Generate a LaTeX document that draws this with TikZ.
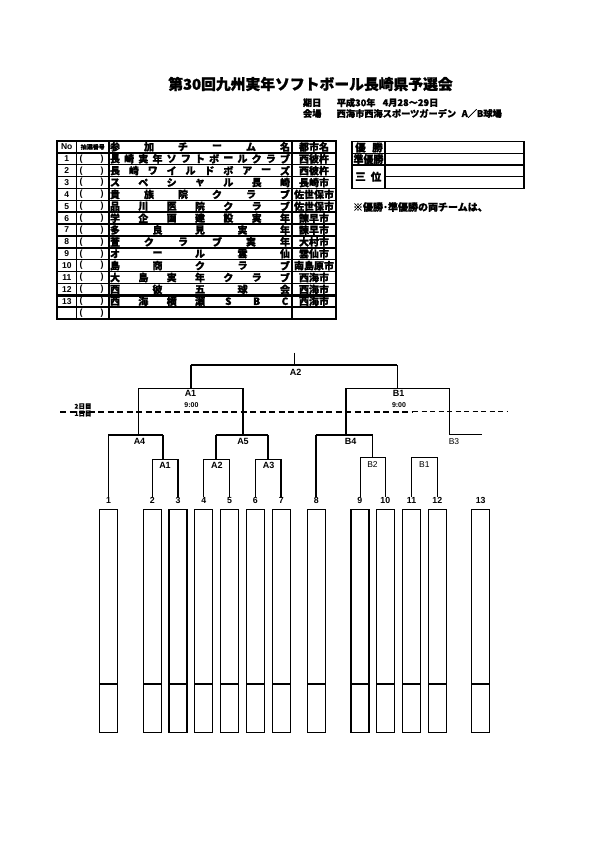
\documentclass[tikz,border=0pt]{standalone}
\usepackage{fontspec}
\setmainfont{Liberation Sans}
\newfontfamily\jp{Noto Sans CJK JP}[BoldFeatures={FakeBold=1.2}]
\newcommand\jpb{\jp\bfseries}
\newcommand\fsz[1]{\fontsize{#1}{#1}\selectfont}
% #1 row, #2 number of characters, #3 characters, #4 city
\newcommand\teamrow[4]{%
  \pgfmathsetmacro\ry{141+11.87*(#1+0.5)}%
  \node[numtxt] (no#1) at (66.75,\ry) {#1};
  \node[partxt] (pl#1) at (81,\ry) {(};
  \node[partxt] (pr#1) at (102,\ry) {)};
  \foreach[count=\i] \c in {#3} {
    \pgfmathsetmacro\rx{115+(\i-1)*170/(#2-1)}
    \node[tchar] (c#1-\i) at (\rx,\ry) {\c};
  }
  \node[ctxt] (city#1) at (314,\ry) {#4};
}
\begin{document}
\begin{tikzpicture}[x=1pt,y=-1pt,
  every node/.style={inner sep=0pt, outer sep=0pt},
  tline/.style={line width=1.5pt},
  tchar/.style={font=\jpb\fsz{10}},
  ctxt/.style={font=\jpb\fsz{10}},
  numtxt/.style={font=\bfseries\fsz{8.5}},
  partxt/.style={font=\bfseries\fsz{9}},
  lab/.style={font=\bfseries\fsz{9}},
  labthin/.style={font=\fsz{8.5}},
  tnum/.style={font=\bfseries\fsz{8.8}},
  tbox/.style={draw, line width=1.4pt, minimum width=18pt, minimum height=223.4pt},
  bnorm/.style={line width=1.1pt},
  bthick/.style={line width=1.9pt},
  bthin/.style={line width=0.6pt},
]
\useasboundingbox[fill=white] (0,0) rectangle (595,842);

% ---------- title ----------
\node[font=\jpb\fsz{14.8}] (title) at (310.5,84) {第30回九州実年ソフトボール長崎県予選会};
\node[font=\jpb\fsz{9.2}, anchor=west] (kijitsu) at (303,102.7) {期日};
\node[font=\jpb\fsz{9.2}, anchor=west] (date1) at (336.7,102.7) {平成30年};
\node[font=\jpb\fsz{9.2}, anchor=west] (date2) at (382.7,102.7) {4月28～29日};
\node[font=\jpb\fsz{9.2}, anchor=west] (kaijo) at (303,113.5) {会場};
\node[font=\jpb\fsz{9.2}, anchor=west] (place1) at (336.7,113.5) {西海市西海スポーツガーデン};
\node[font=\jpb\fsz{9.2}, anchor=west] (place2) at (461.7,113.5) {A／B球場};

% ---------- team table ----------
\draw[tline] (57,141) rectangle (336,319.05);
\foreach \k in {1,...,14} {
  \pgfmathsetmacro\yy{141+11.87*\k}
  \draw[tline] (57,\yy) -- (336,\yy);
}
\draw[line width=2.6pt] (57,295.31) -- (336,295.31);
\foreach \xx in {76.5,109,292} \draw[tline] (\xx,141) -- (\xx,319.05);

\node[numtxt] (hNo) at (66.75,146.9) {No};
\node[font=\jpb\fsz{6}] (hLot) at (92.75,146.9) {抽選番号};
\foreach[count=\i] \c in {参,加,チ,ー,ム,名} {
  \pgfmathsetmacro\rx{115+(\i-1)*34}
  \node[tchar] (h-\i) at (\rx,146.9) {\c};
}
\node[ctxt] (hCity) at (314,146.9) {都市名};

\teamrow{1}{13}{長,崎,実,年,ソ,フ,ト,ボ,ー,ル,ク,ラ,ブ}{西彼杵}
\teamrow{2}{10}{長,崎,ワ,イ,ル,ド,ボ,ア,ー,ズ}{西彼杵}
\teamrow{3}{7}{ス,ペ,シ,ャ,ル,長,崎}{長崎市}
\teamrow{4}{6}{貴,族,院,ク,ラ,ブ}{佐世保市}
\teamrow{5}{7}{品,川,医,院,ク,ラ,ブ}{佐世保市}
\teamrow{6}{7}{学,企,画,建,設,実,年}{諫早市}
\teamrow{7}{5}{多,良,見,実,年}{諫早市}
\teamrow{8}{6}{萱,ク,ラ,ブ,実,年}{大村市}
\teamrow{9}{5}{オ,ー,ル,雲,仙}{雲仙市}
\teamrow{10}{5}{島,商,ク,ラ,ブ}{南島原市}
\teamrow{11}{7}{大,島,実,年,ク,ラ,ブ}{西海市}
\teamrow{12}{5}{西,彼,五,球,会}{西海市}
\teamrow{13}{7}{西,海,横,瀬,S,B,C}{西海市}
\node[partxt] (pl14) at (81,313.1) {(};
\node[partxt] (pr14) at (102,313.1) {)};

% ---------- result table ----------
\draw[tline] (352,141.7) rectangle (524,188.3);
\draw[tline] (385,141.7) -- (385,188.3);
\draw[tline] (352,153.3) -- (524,153.3);
\draw[tline] (352,165) -- (524,165);
\draw[tline] (385,176.7) -- (524,176.7);
\node[font=\jpb\fsz{10.5}] (yu1) at (360.5,147.5) {優};
\node[font=\jpb\fsz{10.5}] (yu2) at (377.5,147.5) {勝};
\node[font=\jpb\fsz{10.5}] (jun) at (368.5,159.2) {\scalebox{0.95}[1]{準優勝}};
\node[font=\jpb\fsz{10.5}] (san1) at (360.5,176.7) {三};
\node[font=\jpb\fsz{10.5}] (san2) at (376,176.7) {位};
\node[font=\jpb\fsz{10}, anchor=west] (note) at (353,207) {※優勝･準優勝の両チームは、};

% ---------- team boxes and numbers ----------
\foreach \n/\x in {1/108.5,2/152.2,3/178,4/203.7,5/229.5,6/255.3,7/281.3,8/316.3,9/359.8,10/385.3,11/411.5,12/437.3,13/480.7} {
  \node[tnum] (n\n) at (\x,500.5) {\n};
  \node[tbox] (b\n) at (\x,621) {};
  \draw[line width=1.4pt] (b\n.west |- 0,684) -- (b\n.east |- 0,684);
}

% ---------- bracket ----------
\coordinate (tick) at (294.3,352.5);
\coordinate (A2L) at (190.7,365);
\coordinate (A2R) at (397.3,365);
\draw[bnorm] (tick) -- (tick |- A2L);
\draw[bthick] (A2L) -- (A2R);
\node[lab] (lA2) at (295.5,372.5) {A2};

% A1 (day 2)
\coordinate (A1L) at (138.3,388.3);
\coordinate (A1R) at (242.7,388.3);
\draw[bthick] (A2L) -- (A2L |- A1L);
\draw[bnorm] (A1L) -- (A1R);
\node[lab] (lA1) at (190.5,393) {A1};
\node[font=\bfseries\fsz{7}] (t1) at (191.5,405.5) {9:00};

% B1 (day 2)
\coordinate (B1L) at (346,388.3);
\coordinate (B1R) at (449.3,388.3);
\draw[bnorm] (A2R) -- (A2R |- B1L);
\draw[bnorm] (B1L) -- (B1R);
\node[lab] (lB1) at (398.5,393) {B1};
\node[font=\bfseries\fsz{7}] (t2) at (399,405.5) {9:00};

% day divider
\coordinate (dA) at (60,411.7);
\coordinate (dB) at (413,411.7);
\coordinate (dC) at (508.3,411.7);
\draw[line width=1.8pt, dash pattern=on 6pt off 3.5pt] (dA) -- (dB);
\draw[line width=1pt, dash pattern=on 5pt off 3.5pt] (dB) -- (dC);
\node[font=\jpb\fsz{6.5}] (d2) at (83,406.3) {2日目};
\node[font=\jpb\fsz{6.5}] (d1) at (83,413.6) {1日目};

% A4
\coordinate (A4R) at (163.3,435);
\draw[bnorm] (A1L) -- (A1L |- A4R);
\draw[bnorm] (n1.north) |- (A4R);
\draw[bthick] (A4R) -- (163.3,459.3);
\node[lab] (lA4) at (139.5,441.5) {A4};

% A5
\coordinate (A5L) at (216,435);
\coordinate (A5R) at (268,435);
\draw[bthick] (A1R) -- (A1R |- A5L);
\draw[bnorm] (A5L) -- (A5R);
\draw[bthick] (A5L) -- (216,459.3);
\draw[bthick] (A5R) -- (268,459.3);
\node[lab] (lA5) at (243,441.5) {A5};

% A1, A2, A3 (day 1)
\coordinate (yl) at (0,459.3);
\draw[bnorm] (n2.north) -- (n2.north |- yl) -- (n3.north |- yl) -- (n3.north);
\node[lab] (lA1b) at (165,465.3) {A1};
\draw[bnorm] (n4.north) -- (n4.north |- yl) -- (n5.north |- yl) -- (n5.north);
\node[lab] (lA2b) at (216.8,465.3) {A2};
\draw[bnorm] (n6.north) -- (n6.north |- yl) -- (n7.north |- yl);
\draw[bthick] (n7.north |- yl) -- (n7.north);
\node[lab] (lA3b) at (268.5,465.3) {A3};

% B4
\coordinate (B4R) at (372.6,435);
\coordinate (B4L) at (316.3,435);
\draw[bnorm] (B1L) -- (B1L |- B4L);
\draw[bnorm] (B4L) -- (B4R);
\draw[bthick] (B4L) -- (n8.north);
\node[lab] (lB4) at (350.5,441.3) {B4};

% B3
\coordinate (B3E) at (481.7,434.3);
\draw[bnorm] (B1R) |- (B3E);
\node[labthin] (lB3) at (454,441.3) {B3};

% B2, B1 (day 1)
\coordinate (yb) at (0,457.7);
\draw[bnorm] (B4R) -- (B4R |- yb);
\draw[bthin] (n9.north) -- (n9.north |- yb) -- (n10.north |- yb) -- (n10.north);
\node[labthin] (lB2) at (372.5,464.3) {B2};
\draw[bthin] (n11.north) -- (n11.north |- yb) -- (n12.north |- yb) -- (n12.north);
\node[labthin] (lB1b) at (424.4,464.3) {B1};

\end{tikzpicture}
\end{document}
